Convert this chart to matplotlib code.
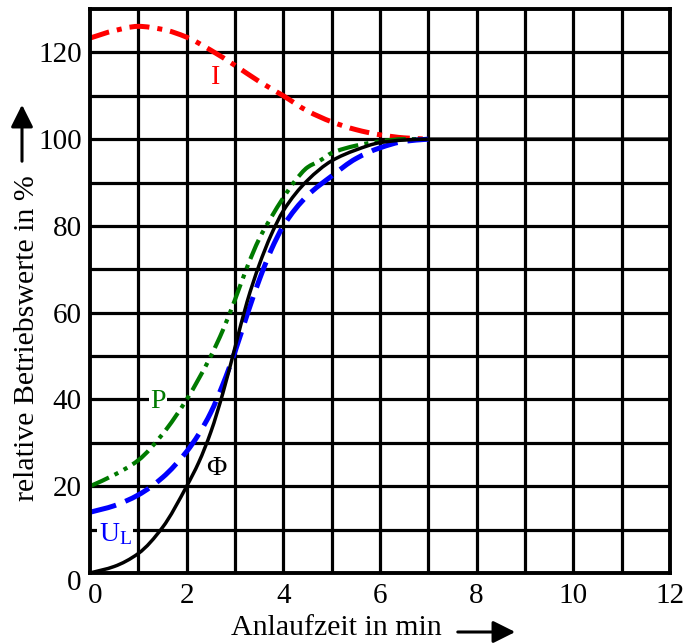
import matplotlib
matplotlib.use("Agg")
import matplotlib.pyplot as plt
import matplotlib.transforms as mtransforms
from matplotlib.path import Path
from matplotlib.patches import PathPatch, FancyArrowPatch

plt.rcParams['font.family'] = ['Liberation Serif', 'DejaVu Serif']
plt.rcParams['mathtext.fontset'] = 'custom'
plt.rcParams['mathtext.rm'] = 'Liberation Serif'
plt.rcParams['mathtext.it'] = 'Liberation Serif:italic'

# ---- data ----
phi_x = [0, 0.5, 1, 1.5, 2, 2.25, 2.5, 2.75, 3, 3.25, 3.5, 3.75, 4, 4.5, 5, 5.5, 6, 6.5, 7, 12]
phi_y = [0, 1.5, 4.5, 10.5, 20, 25.5, 32.5, 41.5, 52, 62.5, 71, 78, 83.5, 90.5, 95, 97.5, 99.2, 99.8, 100, 100]

p_x = [0, 0.5, 1, 1.5, 2, 2.5, 2.75, 3, 3.25, 3.5, 3.75, 4, 4.25, 4.5, 4.75, 5, 5.5, 6, 6.5, 7]
p_y = [20, 22.6, 26, 32, 40, 50, 56, 63, 70.5, 77, 82, 86.5, 90.5, 93.5, 95, 96.8, 98.5, 99.5, 100, 100]

ul_x = [0, 0.5, 1, 1.5, 2, 2.25, 2.5, 2.75, 3, 3.25, 3.5, 3.75, 4, 4.5, 5, 5.5, 6, 6.5, 7]
ul_y = [14, 15.5, 18, 22, 28, 32, 37, 43.5, 51, 59.5, 67.5, 74.5, 80, 87, 91.5, 95.5, 98, 99.5, 100]

i_x = [0, 0.5, 1, 1.5, 2, 2.5, 3, 3.5, 4, 4.5, 5, 5.5, 6, 6.5, 7]
i_y = [123.3, 125, 126, 125.3, 123.5, 120.5, 117, 113.3, 110, 106.5, 104, 102.2, 101, 100.3, 100]

x_ticks = [0, 2, 4, 6, 8, 10, 12]
y_ticks = [0, 20, 40, 60, 80, 100, 120]
x_label = "Anlaufzeit in min"
y_label = "relative Betriebswerte in %"


def smooth_path(xs, ys):
    """Bezier path through the given points (PCHIP-style tangents)."""
    n = len(xs)
    h = [xs[k + 1] - xs[k] for k in range(n - 1)]
    d = [(ys[k + 1] - ys[k]) / h[k] for k in range(n - 1)]
    m = [0.0] * n
    m[0] = d[0]
    m[-1] = d[-1]
    for k in range(1, n - 1):
        if d[k - 1] * d[k] <= 0:
            m[k] = 0.0
        else:
            w1 = 2 * h[k] + h[k - 1]
            w2 = h[k] + 2 * h[k - 1]
            m[k] = (w1 + w2) / (w1 / d[k - 1] + w2 / d[k])
    verts = [(xs[0], ys[0])]
    codes = [Path.MOVETO]
    for k in range(n - 1):
        verts += [(xs[k] + h[k] / 3, ys[k] + m[k] * h[k] / 3),
                  (xs[k + 1] - h[k] / 3, ys[k + 1] - m[k + 1] * h[k] / 3),
                  (xs[k + 1], ys[k + 1])]
        codes += [Path.CURVE4] * 3
    return Path(verts, codes)


# ---- figure ----
fig = plt.figure(figsize=(6.85, 6.43), dpi=100)
ax = fig.add_axes([90/685, 1-573/643, 580/685, 564/643])
ax.set_xlim(0, 12)
ax.set_ylim(0, 130)

# grid
for gx in range(1, 12):
    ax.axvline(gx, color='black', lw=2.3, zorder=1)
for gy in range(10, 130, 10):
    ax.axhline(gy, color='black', lw=2.3, zorder=1)
for s in ax.spines.values():
    s.set_linewidth(2.8)
    s.set_zorder(5)

def curve(xs, ys, **kw):
    ax.add_patch(PathPatch(smooth_path(xs, ys), fill=False, capstyle='butt', **kw))

curve(i_x, i_y, edgecolor='#ff0000', lw=3.6, ls=(0, (4, 1.6, 1, 1.6)), zorder=3)
curve(p_x, p_y, edgecolor='#007a00', lw=3.0, ls=(0, (5, 1.5, 1, 1.5, 1, 1.5)), zorder=3)
curve(ul_x, ul_y, edgecolor='#0000ff', lw=3.6, ls=(0, (5.4, 2)), zorder=3)
curve(phi_x, phi_y, edgecolor='black', lw=2.5, zorder=4)

bb = dict(facecolor='white', edgecolor='none', pad=1.0)
ax.text(2.59, 114.3, "I", color='#ff0000', fontsize=20, ha='center', va='center', zorder=6, bbox=bb)
ax.text(1.4, 39.5, "P", color='#007a00', fontsize=20, ha='center', va='center', zorder=6, bbox=bb)
ax.text(2.61, 24, "Φ", color='black', fontsize=20, ha='center', va='center', zorder=6, bbox=bb)
ax.text(0.52, 9, r"U$_{\mathrm{L}}$", color='#0000ff', fontsize=20, ha='center', va='center', zorder=6, bbox=bb)

ax.set_xticks(x_ticks)
ax.set_yticks(y_ticks)
ax.set_xticklabels([str(v) for v in x_ticks])
ax.set_yticklabels([str(v) for v in y_ticks])
ax.tick_params(axis='both', length=0, labelsize=21)
ax.tick_params(axis='x', pad=7)
ax.tick_params(axis='y', pad=6)

# offset the two zero labels
xl0 = ax.get_xticklabels()[0]
xl0.set_transform(xl0.get_transform() + mtransforms.ScaledTranslation(5/100, 0, fig.dpi_scale_trans))
yl0 = ax.get_yticklabels()[0]
yl0.set_transform(yl0.get_transform() + mtransforms.ScaledTranslation(0, -7/100, fig.dpi_scale_trans))

# axis labels with arrows (figure pixel coords)
def fx(px):
    return px / 685
def fy(py):
    return 1 - py / 643

fig.text(fx(336), fy(628), x_label, fontsize=21.5, ha='center', va='center')
fig.text(fx(27), fy(338), y_label, fontsize=21.5, ha='center', va='center', rotation=90)

fig.add_artist(FancyArrowPatch((fx(455), fy(632)), (fx(518), fy(632)),
               transform=fig.transFigure, arrowstyle='-|>,head_length=9,head_width=4.5',
               color='black', lw=2.2, mutation_scale=1.5))
fig.add_artist(FancyArrowPatch((fx(22), fy(164)), (fx(22), fy(102)),
               transform=fig.transFigure, arrowstyle='-|>,head_length=9,head_width=4.5',
               color='black', lw=2.2, mutation_scale=1.5))

fig.savefig("out.png", dpi=100)
